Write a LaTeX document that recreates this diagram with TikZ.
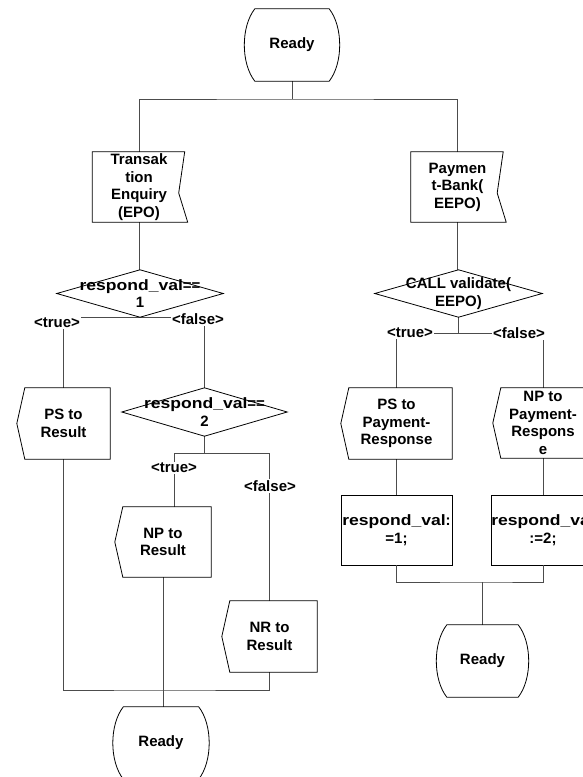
\documentclass[tikz,border=0pt]{standalone}
\usepackage{fontspec}
\usepackage{graphicx}
\setmainfont{Liberation Sans}
\newcommand\rv{\scalebox{1.17}[1]{respond\_val}}
% outline helpers, drawn from the anchors of an invisible node
\newcommand\statepath[1]{\draw[shapeline] (#1.north west) -- (#1.north east)
  .. controls +(14,18) and +(14,-18) .. (#1.south east) -- (#1.south west)
  .. controls +(-14,-18) and +(-14,18) .. (#1.north west) -- cycle;}
\newcommand\recvpath[1]{\draw[shapeline] (#1.north west) -- ([xshift=-1pt]#1.north east)
  -- ([xshift=-7pt,yshift=-6pt]#1.east) -- ([xshift=2pt]#1.south east) -- (#1.south west) -- cycle;}
\newcommand\sendpath[1]{\draw[shapeline] ([xshift=8pt]#1.north west) -- (#1.north east)
  -- (#1.south east) -- ([xshift=8pt]#1.south west) -- (#1.west) -- cycle;}
\newcommand\decpath[1]{\draw[shapeline] (#1.north) -- (#1.east) -- (#1.south) -- (#1.west) -- cycle;}
\tikzset{
  every node/.style={font=\bfseries\fontsize{15}{17.5}\selectfont, align=center, inner sep=0pt},
  shapeline/.style={draw=black, line width=0.8pt},
  conn/.style={draw=black!70, line width=1pt},
  lbl/.style={fill=white, inner sep=1.5pt},
  statebox/.style={minimum width=74pt, minimum height=72pt},
  sigbox/.style={minimum width=#1, minimum height=71pt},
  decbox/.style={minimum width=#1, minimum height=47pt},
  taskbox/.style={draw=black, line width=0.8pt, minimum width=#1, minimum height=70pt},
}
\begin{document}
\begin{tikzpicture}[x=1pt, y=-1pt]
\useasboundingbox (0,0) rectangle (582,777);

% ---- nodes ----
\node[statebox] (start) at (292,45) {Ready};
\node[sigbox=93pt, minimum height=70pt] (te) at (139,187) {Transak\\tion\\Enquiry\\(EPO)};
\node[sigbox=93pt, minimum height=70pt] (pb) at (457.5,187) {Paymen\\t-Bank(\\EEPO)};

\node[decbox=166pt] (d1) at (140,293.5) {\rv==\\1};
\node[decbox=167pt] (d3) at (458.5,293.5) {CALL validate(\\EEPO)};

\node[sigbox=93pt] (ps1) at (63.5,423.5) {PS to\\Result};
\node[decbox=165pt, minimum height=48pt] (d2) at (204.5,412) {\rv==\\2};
\node[sigbox=96pt, minimum height=70pt] (np1) at (163,542) {NP to\\Result};
\node[sigbox=95pt] (nr1) at (269.5,636.5) {NR to\\Result};
\node[statebox, minimum width=75pt] (end1) at (161,743) {Ready};

\node[sigbox=111pt] (ps2) at (396.5,423.5) {PS to\\Payment-\\Response};
\node[sigbox=100pt, minimum height=70pt] (np2) at (543,423) {NP to\\Payment-\\Respons\\e};
\node[taskbox=111pt] (r1) at (396.5,530) {\rv:\\=1;};
\node[taskbox=98pt] (r2) at (543,530) {\rv\\:=2;};
\node[statebox, minimum width=71pt] (end2) at (482.5,661) {Ready};

% ---- junction points ----
\coordinate (bus1) at (292,99);
\coordinate (b2t) at (174,453);
\coordinate (b2f) at (269,453);
\coordinate (bus3) at (163,690);
\coordinate (b3) at (458.5,333);
\coordinate (bus4) at (482.5,582);

% ---- connectors ----
\draw[conn] (start.south) -- (bus1);
\draw[conn] (te.north) |- (bus1) -| (pb.north);
\draw[conn] (te.south) -- (te.south |- d1.north);
\draw[conn] (pb.south) -- (pb.south |- d3.north);

\draw[conn] (d1.south) -| (ps1.north);
\draw[conn] (d1.south) -| (d2.north);
\draw[conn] (d2.south) -- (d2.south |- b2t);
\draw[conn] (b2t) -- (b2f);
\draw[conn] (b2t) -- (b2t |- np1.north);
\draw[conn] (b2f) -- (b2f |- nr1.north);
\draw[conn] (ps1.south) |- (bus3) -| (nr1.south);
\draw[conn] (np1.south) -- (np1.south |- end1.north);

\draw[conn] (d3.south) -- (b3);
\draw[conn] (b3) -| (ps2.north);
\draw[conn] (b3) -| (np2.north);
\draw[conn] (ps2.south) -- (r1.north);
\draw[conn] (np2.south) -- (r2.north);
\draw[conn] (r1.south) |- (bus4) -| (r2.south);
\draw[conn] (bus4) -- (end2.north);

% ---- symbol outlines ----
\statepath{start}
\statepath{end1}
\statepath{end2}
\recvpath{te}
\recvpath{pb}
\decpath{d1}
\decpath{d2}
\decpath{d3}
\sendpath{ps1}
\sendpath{np1}
\sendpath{nr1}
\sendpath{ps2}
\sendpath{np2}

% ---- branch labels ----
\node[lbl] (t1) at (57,323) {<true>};
\node[lbl] (f1) at (198,319) {<false>};
\node[lbl] (t2) at (174,468) {<true>};
\node[lbl] (f2) at (270,486) {<false>};
\node[lbl] (t3) at (410,333) {<true>};
\node[lbl] (f3) at (519,333) {<false>};
\end{tikzpicture}
\end{document}
